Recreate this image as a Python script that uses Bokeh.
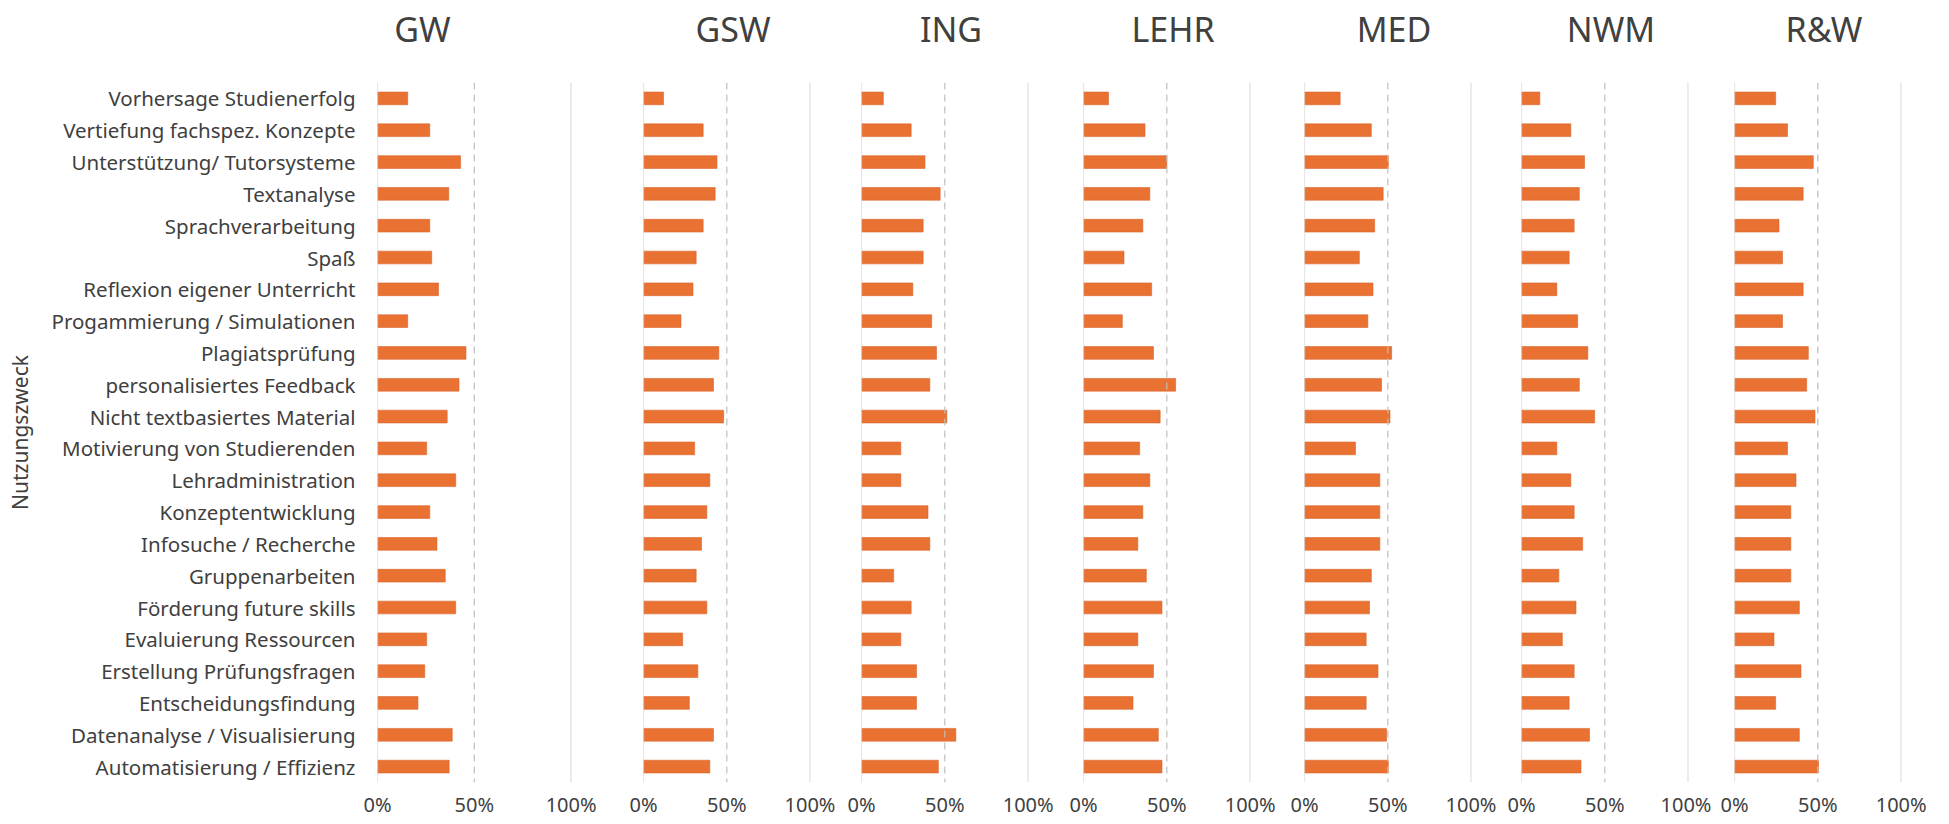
from bokeh.plotting import figure
from bokeh.layouts import row, column
from bokeh.models import Range1d, FixedTicker, NumeralTickFormatter, Span
from bokeh.core.properties import value
from bokeh.embed import file_html
from bokeh.resources import INLINE

categories = [
    "Vorhersage Studienerfolg",
    "Vertiefung fachspez. Konzepte",
    "Unterstützung/ Tutorsysteme",
    "Textanalyse",
    "Sprachverarbeitung",
    "Spaß",
    "Reflexion eigener Unterricht",
    "Progammierung / Simulationen",
    "Plagiatsprüfung",
    "personalisiertes Feedback",
    "Nicht textbasiertes Material",
    "Motivierung von Studierenden",
    "Lehradministration",
    "Konzeptentwicklung",
    "Infosuche / Recherche",
    "Gruppenarbeiten",
    "Förderung future skills",
    "Evaluierung Ressourcen",
    "Erstellung Prüfungsfragen",
    "Entscheidungsfindung",
    "Datenanalyse / Visualisierung",
    "Automatisierung / Effizienz",
]

panel_names = ["GW", "GSW", "ING", "LEHR", "MED", "NWM", "R&W"]

gw = [0.156, 0.270, 0.429, 0.368, 0.270, 0.280, 0.315, 0.156, 0.457, 0.421, 0.360,
      0.254, 0.404, 0.270, 0.307, 0.350, 0.404, 0.254, 0.244, 0.209, 0.386, 0.370]
gsw = [0.120, 0.358, 0.441, 0.430, 0.358, 0.316, 0.297, 0.225, 0.452, 0.420, 0.481,
       0.307, 0.398, 0.380, 0.348, 0.316, 0.380, 0.235, 0.326, 0.275, 0.420, 0.398]
ing = [0.131, 0.298, 0.381, 0.472, 0.370, 0.370, 0.308, 0.421, 0.450, 0.410, 0.512,
       0.236, 0.236, 0.399, 0.410, 0.193, 0.298, 0.236, 0.330, 0.330, 0.566, 0.461]
lehr = [0.150, 0.369, 0.500, 0.398, 0.356, 0.243, 0.409, 0.233, 0.420, 0.553, 0.460,
        0.337, 0.398, 0.356, 0.326, 0.377, 0.471, 0.326, 0.420, 0.297, 0.449, 0.471]
med = [0.214, 0.401, 0.503, 0.472, 0.421, 0.329, 0.411, 0.380, 0.523, 0.462, 0.513,
       0.306, 0.452, 0.452, 0.452, 0.401, 0.390, 0.370, 0.441, 0.370, 0.492, 0.503]
nwm = [0.110, 0.296, 0.378, 0.347, 0.316, 0.286, 0.212, 0.337, 0.398, 0.347, 0.439,
       0.212, 0.296, 0.316, 0.367, 0.224, 0.327, 0.245, 0.316, 0.286, 0.408, 0.357]
rw = [0.247, 0.318, 0.473, 0.412, 0.267, 0.288, 0.412, 0.288, 0.443, 0.433, 0.483,
      0.318, 0.369, 0.338, 0.338, 0.338, 0.389, 0.237, 0.399, 0.247, 0.389, 0.504]

series = [gw, gsw, ing, lehr, med, nwm, rw]
x_ticks = [0, 0.5, 1]

FONT = "Noto Sans"
TEXT = "#404040"
BAR = "#E97132"
GRID = "#d0d0d0"

# layout (pixel positions of each panel's frame)
frame_left = [377, 643, 861, 1083, 1304, 1521, 1734]
frame_w = [194, 167, 167, 167, 167, 167, 167]
bounds = [0, 607, 835, 1055, 1277, 1496, 1711, 1940]
title_dx = [-52, 6, 6, 6, 6, 6, 6]
TITLE_H = 56
TOP, FRAME_H, BOTTOM = 26, 700, 41

title_figs = []
figs = []
for i, name in enumerate(panel_names):
    w = bounds[i + 1] - bounds[i]
    mbl = frame_left[i] - bounds[i]
    mbr = bounds[i + 1] - (frame_left[i] + frame_w[i])

    # strip carrying the panel title
    t = figure(width=w, height=TITLE_H, x_range=Range1d(0, 1), y_range=Range1d(0, 1),
               output_backend="svg", toolbar_location=None, title_location=None,
               min_border_left=mbl, min_border_right=mbr,
               min_border_top=0, min_border_bottom=0)
    t.axis.visible = False
    t.grid.visible = False
    t.outline_line_color = None
    t.text(x=[0.5], y=[0.5], text=[name], x_offset=title_dx[i],
           text_align="center", text_baseline="middle",
           text_font=value(FONT), text_font_size=value("34px"), text_color=TEXT)
    title_figs.append(t)

    p = figure(width=w, height=TOP + FRAME_H + BOTTOM, y_range=list(reversed(categories)),
               x_range=Range1d(0, 1.002), output_backend="svg", toolbar_location=None,
               title_location=None,
               min_border_left=mbl, min_border_right=mbr,
               min_border_top=TOP, min_border_bottom=BOTTOM)
    p.outline_line_color = None
    p.xgrid.visible = False
    p.ygrid.visible = False

    p.add_layout(Span(location=0, dimension="height", line_color=GRID, line_width=1.2))
    p.add_layout(Span(location=0.5, dimension="height", line_color="#bfbfbf",
                      line_width=1.2, line_dash="7 5"))
    p.add_layout(Span(location=1.0, dimension="height", line_color=GRID, line_width=1.2))

    p.hbar(y=categories, left=0, right=series[i], height=0.4,
           fill_color=BAR, line_color="#D9652B", line_width=0.6)

    xa = p.xaxis[0]
    xa.ticker = FixedTicker(ticks=x_ticks)
    xa.formatter = NumeralTickFormatter(format="0%")
    xa.major_tick_line_color = None
    xa.minor_tick_line_color = None
    xa.axis_line_color = None
    xa.major_label_text_font = FONT
    xa.major_label_text_font_size = "20px"
    xa.major_label_text_color = TEXT
    xa.major_label_standoff = 2

    ya = p.yaxis[0]
    if i == 0:
        ya.major_tick_line_color = None
        ya.minor_tick_line_color = None
        ya.axis_line_color = None
        ya.major_label_text_font = FONT
        ya.major_label_text_font_size = "20.5px"
        ya.major_label_text_color = TEXT
        ya.major_label_standoff = 16
        ya.axis_label = "Nutzungszweck"
        ya.axis_label_text_font = FONT
        ya.axis_label_text_font_size = "21px"
        ya.axis_label_text_font_style = "normal"
        ya.axis_label_text_color = TEXT
        ya.axis_label_standoff = 14
    else:
        ya.visible = False
    figs.append(p)

layout = column(row(*title_figs, spacing=0), row(*figs, spacing=0), spacing=0)
open("out.html", "w").write(file_html(layout, INLINE))
